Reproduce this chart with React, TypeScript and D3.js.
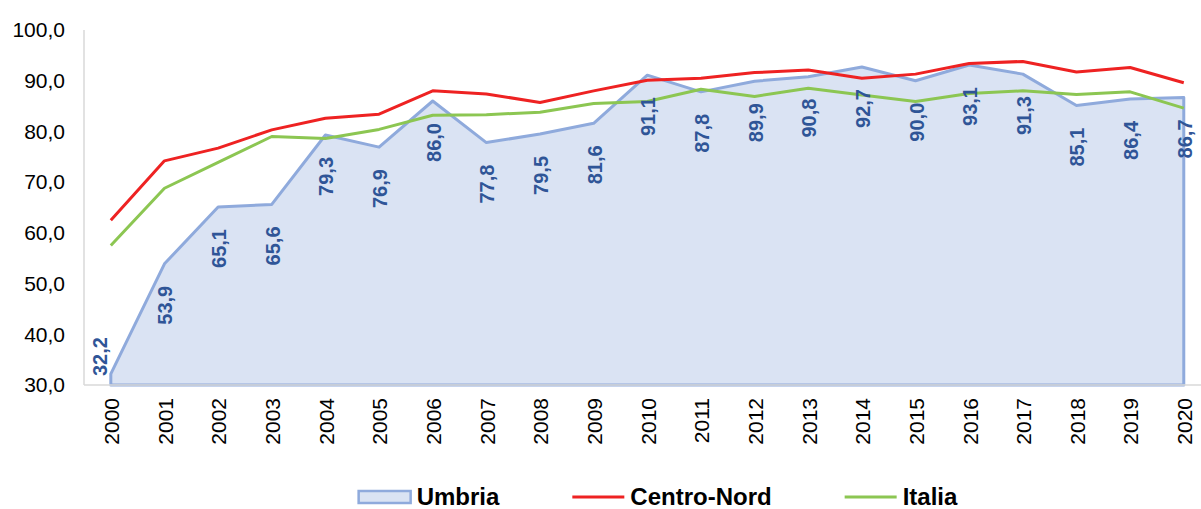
import React, { useRef, useEffect } from "react";
import * as d3 from "d3";

const years = [
  "2000", "2001", "2002", "2003", "2004", "2005", "2006", "2007", "2008", "2009", "2010",
  "2011", "2012", "2013", "2014", "2015", "2016", "2017", "2018", "2019", "2020",
];
const umbria = [
  32.2, 53.9, 65.1, 65.6, 79.3, 76.9, 86.0, 77.8, 79.5, 81.6, 91.1,
  87.8, 89.9, 90.8, 92.7, 90.0, 93.1, 91.3, 85.1, 86.4, 86.7,
];
const centroNord = [
  62.5, 74.2, 76.7, 80.3, 82.6, 83.4, 88.0, 87.4, 85.7, 88.0, 90.1,
  90.5, 91.6, 92.1, 90.5, 91.3, 93.4, 93.8, 91.7, 92.6, 89.6,
];
const italia = [
  57.5, 68.8, 73.9, 79.0, 78.6, 80.4, 83.2, 83.3, 83.8, 85.5, 85.9,
  88.3, 86.9, 88.5, 87.2, 85.9, 87.5, 88.0, 87.3, 87.8, 84.6,
];
const yTicks = [30, 40, 50, 60, 70, 80, 90, 100];
const legendItems = ["Umbria", "Centro-Nord", "Italia"];

const FONT = "'Liberation Sans', Arial, sans-serif";
const fmt = (v: number) => v.toFixed(1).replace(".", ",");

const App = () => {
  const ref = useRef<HTMLDivElement>(null);

  useEffect(() => {
    const width = 1201;
    const height = 509;
    const plot = { left: 84, right: 1210.6, top: 30, bottom: 385 };

    d3.select(ref.current).select("svg").remove();

    const svg = d3
      .select(ref.current)
      .append("svg")
      .attr("width", width)
      .attr("height", height)
      .style("display", "block")
      .style("font-family", FONT);

    const x = d3.scalePoint<string>().domain(years).range([plot.left, plot.right]).padding(0.5);
    const y = d3.scaleLinear().domain([30, 100]).range([plot.bottom, plot.top]);

    // area Umbria
    const area = d3
      .area<number>()
      .x((d, i) => x(years[i]) as number)
      .y0(y(30))
      .y1((d) => y(d));

    svg
      .append("path")
      .datum(umbria)
      .attr("d", area)
      .attr("fill", "#DAE3F3")
      .attr("stroke", "#8FAADC")
      .attr("stroke-width", 3)
      .attr("stroke-linejoin", "round");

    // axes
    svg
      .append("line")
      .attr("x1", plot.left)
      .attr("x2", plot.left)
      .attr("y1", plot.top)
      .attr("y2", plot.bottom)
      .attr("stroke", "#D9D9D9")
      .attr("stroke-width", 1.5);
    svg
      .append("line")
      .attr("x1", plot.left)
      .attr("x2", width)
      .attr("y1", plot.bottom)
      .attr("y2", plot.bottom)
      .attr("stroke", "#D9D9D9")
      .attr("stroke-width", 1.5);

    const line = d3
      .line<number>()
      .x((d, i) => x(years[i]) as number)
      .y((d) => y(d));

    svg
      .append("path")
      .datum(centroNord)
      .attr("d", line)
      .attr("fill", "none")
      .attr("stroke", "#EE2222")
      .attr("stroke-width", 3)
      .attr("stroke-linejoin", "round");

    svg
      .append("path")
      .datum(italia)
      .attr("d", line)
      .attr("fill", "none")
      .attr("stroke", "#8CC652")
      .attr("stroke-width", 3)
      .attr("stroke-linejoin", "round");

    // data labels (below the point, rotated)
    svg
      .selectAll(".lbl")
      .data(umbria)
      .enter()
      .append("text")
      .attr("class", "lbl")
      .attr("font-size", 20)
      .attr("font-weight", "bold")
      .attr("fill", "#2F5597")
      .attr("text-anchor", "end")
      .attr("dy", "0.35em")
      .text((d) => fmt(d))
      .each(function (d, i) {
        const el = this as SVGTextElement;
        const len = el.getComputedTextLength();
        let px = x(years[i]) as number;
        let top = y(d) + 22;
        if (top + len > plot.bottom - 9) {
          top = plot.bottom - 9 - len;
          px -= 12;
        }
        d3.select(el).attr("transform", `translate(${px + 1},${top}) rotate(-90)`);
      });

    // y ticks
    svg
      .selectAll(".ytick")
      .data(yTicks)
      .enter()
      .append("text")
      .attr("class", "ytick")
      .attr("x", 65)
      .attr("y", (d) => y(d))
      .attr("dy", "0.35em")
      .attr("text-anchor", "end")
      .attr("font-size", 21)
      .attr("fill", "#000")
      .text((d) => fmt(d));

    // x ticks
    svg
      .selectAll(".xtick")
      .data(years)
      .enter()
      .append("text")
      .attr("class", "xtick")
      .attr("transform", (d) => `translate(${(x(d) as number) + 1},398) rotate(-90)`)
      .attr("dy", "0.35em")
      .attr("text-anchor", "end")
      .attr("font-size", 21)
      .attr("fill", "#000")
      .text((d) => d);

    // legend
    const symW = 52;
    const gapSym = 6;
    const gapItem = 73;
    const legend = svg.append("g");
    const widths: number[] = [];
    legendItems.forEach((name) => {
      const t = legend
        .append("text")
        .attr("font-size", 24)
        .attr("font-weight", "bold")
        .attr("fill", "#000")
        .text(name);
      widths.push((t.node() as SVGTextElement).getComputedTextLength());
      t.remove();
    });
    const total =
      widths.reduce((a, b) => a + b, 0) + legendItems.length * (symW + gapSym) + (legendItems.length - 1) * gapItem;
    let lx = 658 - total / 2;
    const ly = 497;
    legendItems.forEach((name, i) => {
      if (i === 0) {
        legend
          .append("rect")
          .attr("x", lx)
          .attr("y", ly - 6)
          .attr("width", symW)
          .attr("height", 12)
          .attr("fill", "#DAE3F3")
          .attr("stroke", "#8FAADC")
          .attr("stroke-width", 2.5);
      } else {
        legend
          .append("line")
          .attr("x1", lx)
          .attr("x2", lx + symW)
          .attr("y1", ly)
          .attr("y2", ly)
          .attr("stroke", i === 1 ? "#EE2222" : "#8CC652")
          .attr("stroke-width", 3);
      }
      legend
        .append("text")
        .attr("x", lx + symW + gapSym)
        .attr("y", ly + 8)
        .attr("font-size", 24)
        .attr("font-weight", "bold")
        .attr("fill", "#000")
        .text(name);
      lx += symW + gapSym + widths[i] + gapItem;
    });
  }, []);

  return <div ref={ref} style={{ position: "absolute", left: 0, top: 0 }}></div>;
};

export default App;
